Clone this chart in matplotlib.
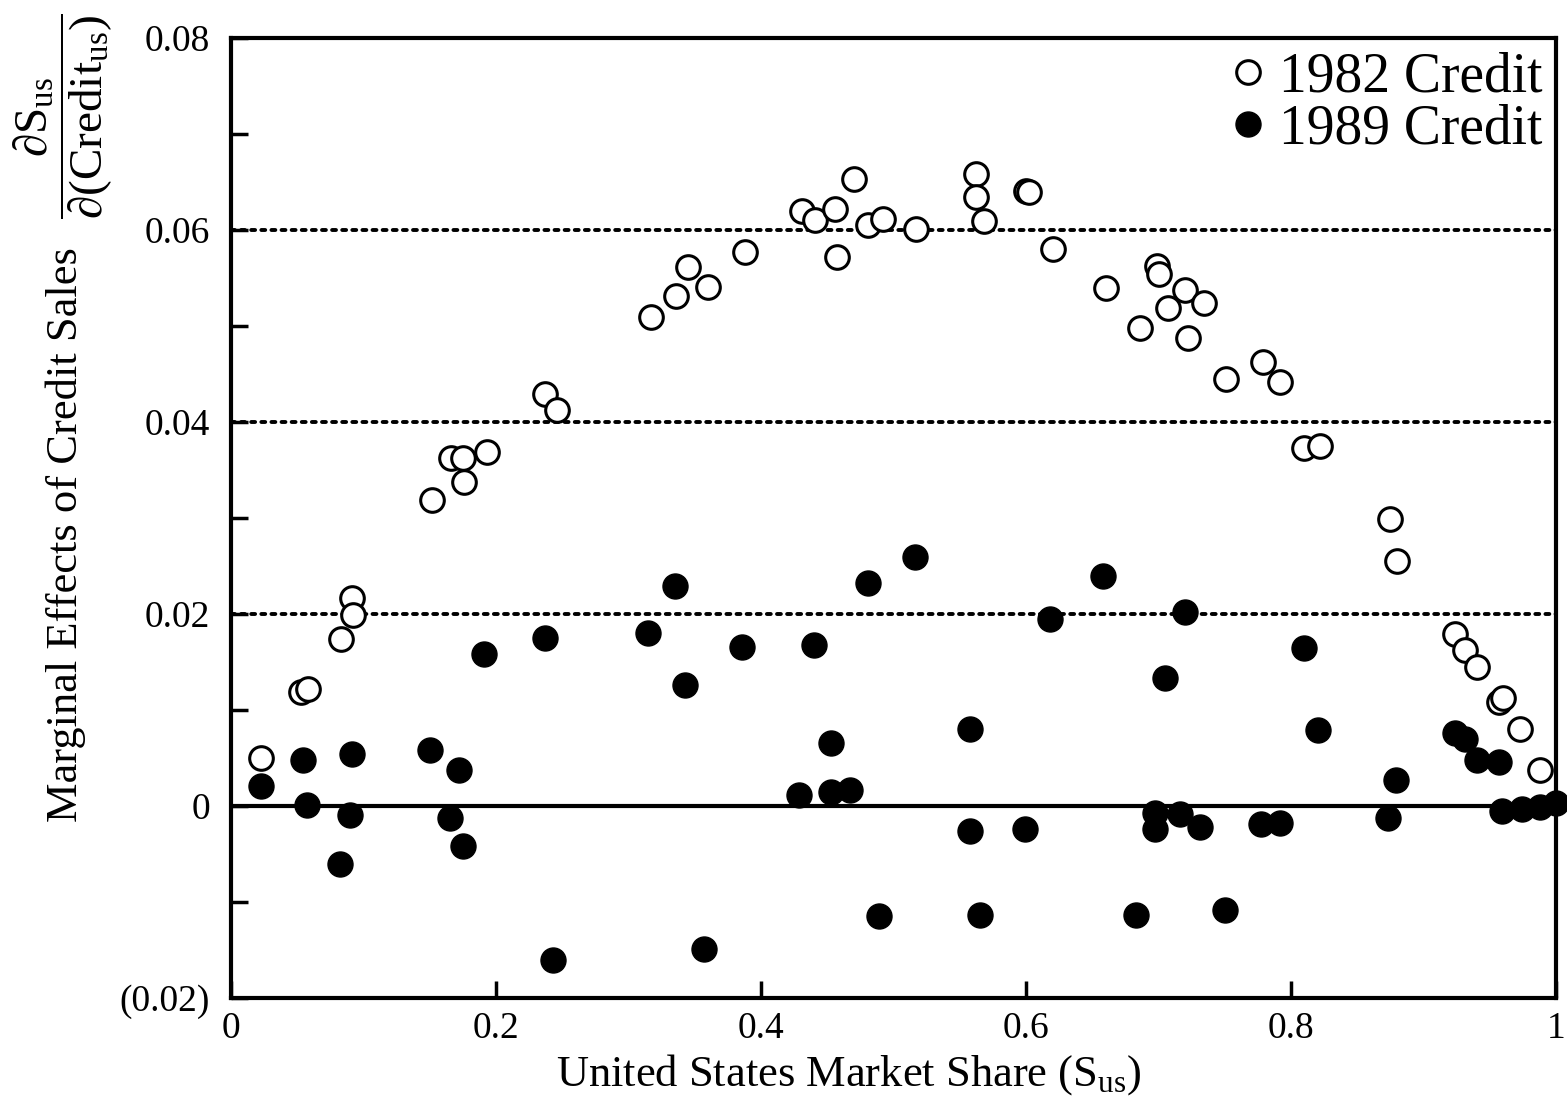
import numpy as np
import matplotlib
matplotlib.use('Agg')
import matplotlib.pyplot as plt

matplotlib.rc('font', family='Liberation Serif')
matplotlib.rc('mathtext', fontset='custom', rm='Liberation Serif',
              it='Liberation Serif:italic', bf='Liberation Serif:bold')

# 1982 credit (open circles)
x_1982 = [0.023, 0.053, 0.058, 0.083, 0.091, 0.092, 0.152, 0.166, 0.175, 0.176,
          0.193, 0.237, 0.246, 0.317, 0.336, 0.345, 0.360, 0.388, 0.431, 0.441,
          0.456, 0.457, 0.470, 0.481, 0.492, 0.517, 0.562, 0.562, 0.568, 0.600,
          0.602, 0.620, 0.660, 0.686, 0.699, 0.700, 0.707, 0.720, 0.722, 0.734,
          0.751, 0.779, 0.792, 0.810, 0.822, 0.875, 0.880, 0.924, 0.931, 0.940,
          0.957, 0.960, 0.973, 0.988]
y_1982 = [0.0050, 0.0119, 0.0122, 0.0174, 0.0217, 0.0199, 0.0319, 0.0363, 0.0363, 0.0338,
          0.0369, 0.0429, 0.0412, 0.0509, 0.0531, 0.0561, 0.0541, 0.0577, 0.0620, 0.0610,
          0.0622, 0.0572, 0.0653, 0.0605, 0.0612, 0.0601, 0.0658, 0.0634, 0.0609, 0.0641,
          0.0640, 0.0580, 0.0540, 0.0498, 0.0562, 0.0554, 0.0519, 0.0537, 0.0488, 0.0524,
          0.0445, 0.0462, 0.0442, 0.0373, 0.0375, 0.0299, 0.0255, 0.0179, 0.0163, 0.0145,
          0.0108, 0.0112, 0.0080, 0.0038]

# 1989 credit (filled circles)
x_1989 = [0.023, 0.054, 0.057, 0.082, 0.090, 0.091, 0.150, 0.165, 0.172, 0.175,
          0.191, 0.237, 0.243, 0.315, 0.335, 0.343, 0.357, 0.386, 0.429, 0.440,
          0.453, 0.453, 0.467, 0.481, 0.489, 0.516, 0.558, 0.558, 0.565, 0.599,
          0.618, 0.658, 0.683, 0.697, 0.697, 0.705, 0.716, 0.720, 0.731, 0.750,
          0.777, 0.792, 0.810, 0.820, 0.873, 0.879, 0.924, 0.931, 0.940, 0.957,
          0.959, 0.974, 0.988, 1.000]
y_1989 = [0.0021, 0.0048, 0.0001, -0.0060, -0.0009, 0.0054, 0.0058, -0.0013, 0.0037, -0.0042,
          0.0158, 0.0175, -0.0160, 0.0180, 0.0229, 0.0126, -0.0149, 0.0166, 0.0011, 0.0168,
          0.0066, 0.0015, 0.0017, 0.0232, -0.0115, 0.0259, 0.0080, -0.0026, -0.0114, -0.0024,
          0.0195, 0.0240, -0.0114, -0.0007, -0.0024, 0.0133, -0.0008, 0.0202, -0.0022, -0.0108,
          -0.0019, -0.0018, 0.0165, 0.0079, -0.0012, 0.0027, 0.0076, 0.0070, 0.0048, 0.0046,
          -0.0005, -0.0003, -0.0001, 0.0003]

xticks = [0, 0.2, 0.4, 0.6, 0.8, 1.0]
xtick_labels = ['0', '0.2', '0.4', '0.6', '0.8', '1']
yticks = [-0.02, -0.01, 0, 0.01, 0.02, 0.03, 0.04, 0.05, 0.06, 0.07, 0.08]
ytick_labels = ['(0.02)', '', '0', '', '0.02', '', '0.04', '', '0.06', '', '0.08']
grid_levels = [0.02, 0.04, 0.06]

fig = plt.figure(figsize=(15.67, 10.99), dpi=100)
ax = fig.add_axes([0.1474, 0.0919, 0.8456, 0.8735])

for g in grid_levels:
    ax.axhline(g, color='black', linestyle=(0, (1, 1.6)), linewidth=2.8,
               dash_capstyle='round', zorder=1)
ax.axhline(0, color='black', linewidth=3, zorder=1)

ax.plot(x_1982, y_1982, 'o', markersize=17, markerfacecolor='white',
        markeredgecolor='black', markeredgewidth=2.2, linestyle='none',
        label='1982 Credit', clip_on=False, zorder=3)
ax.plot(x_1989, y_1989, 'o', markersize=18, markerfacecolor='black',
        markeredgecolor='black', linestyle='none',
        label='1989 Credit', clip_on=False, zorder=3)

ax.set_xlim(0, 1)
ax.set_ylim(-0.02, 0.08)
ax.set_xticks(xticks, xtick_labels)
ax.set_yticks(yticks, ytick_labels)
ax.tick_params(direction='in', length=12, width=2.5, labelsize=27, pad=10)
ax.tick_params(axis='y', pad=15)
for s in ax.spines.values():
    s.set_linewidth(3)

ax.set_xlabel(r'United States Market Share (S$_{\rm us}$)', fontsize=32)
ax.xaxis.set_label_coords(0.466, -0.056, transform=ax.transAxes)
ax.xaxis.label.set_va('top')
fig.text(0.042, 0.514, 'Marginal Effects of Credit Sales', rotation=90,
         fontsize=32, ha='center', va='center')
fig.text(0.040, 0.894, r'$\dfrac{\partial \mathrm{S}_{\mathrm{us}}}{\partial (\mathrm{Credit}_{\mathrm{us}})}$',
         rotation=90, fontsize=34, ha='center', va='center')

leg = ax.legend(loc='upper right', frameon=False, fontsize=40, handletextpad=0.15,
                borderaxespad=0.1, labelspacing=0.0, markerscale=1.0,
                handlelength=0.8, borderpad=0.15)

fig.savefig('out.png', dpi=100)
